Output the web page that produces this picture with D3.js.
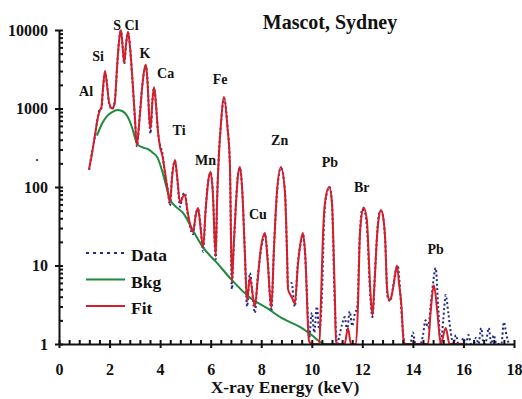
<!DOCTYPE html>
<html>
<head>
<meta charset="utf-8">
<script src="https://cdn.jsdelivr.net/npm/d3@7"></script>
<style>
  body { margin: 0; background: #fff; }
  text { font-family: "Liberation Serif", "Times New Roman", serif; font-weight: bold; fill: #111; }
</style>
</head>
<body>
<div id="chart"></div>
<script>
// Fit curve (keV, counts)
const fitKeV = [1.19, 1.3, 1.42, 1.55, 1.62, 1.68, 1.74, 1.82, 1.9, 1.98, 2.1, 2.2, 2.3, 2.38, 2.45, 2.52,
  2.58, 2.65, 2.73, 2.8, 2.9, 3.0, 3.08, 3.18, 3.3, 3.38, 3.44, 3.5, 3.58, 3.62, 3.7, 3.76, 3.82, 3.92,
  4.0, 4.08, 4.2, 4.3, 4.39, 4.48, 4.59, 4.68, 4.79, 4.9, 4.98, 5.08, 5.3, 5.42, 5.5, 5.58, 5.7, 5.8,
  5.92, 6.0, 6.08, 6.2, 6.25, 6.31, 6.4, 6.53, 6.66, 6.76, 6.84, 6.9, 7.0, 7.08, 7.16, 7.25, 7.35, 7.44,
  7.55, 7.75, 7.85, 7.98, 8.15, 8.25, 8.4, 8.5, 8.62, 8.78, 8.94, 9.02, 9.06, 9.2, 9.33, 9.45, 9.56,
  9.65, 9.74, 9.89, 10.0, 10.3, 10.36, 10.44, 10.52, 10.69, 10.8, 10.85, 10.92, 10.96, 11.3, 11.43,
  11.55, 11.75, 11.83, 11.9, 11.95, 12.05, 12.18, 12.22, 12.3, 12.4, 12.47, 12.58, 12.64, 12.74, 12.84,
  12.9, 12.98, 13.06, 13.15, 13.25, 13.37, 13.45, 13.55, 13.62, 13.65, 14.6, 14.7, 14.83, 14.97, 15.1,
  15.3, 15.45, 16.0];
const fitCounts = [170, 260, 450, 800, 950, 1050, 1800, 3000, 2000, 1200, 1000, 1150, 3500, 7500, 10000, 6000,
  3800, 6500, 9500, 6500, 2500, 800, 340, 700, 2000, 3200, 3600, 2200, 700, 550, 1300, 1870, 1300, 500,
  320, 260, 150, 90, 63, 140, 220, 130, 63, 75, 80, 50, 27, 45, 54, 35, 17, 50,
  130, 155, 90, 13, 60, 200, 600, 1400, 600, 200, 6.2, 15, 60, 140, 180, 90, 15, 3.6,
  7, 3, 6, 16, 26, 12, 2.9, 15, 84, 180, 84, 15, 5, 4, 3.3, 10, 20,
  26, 14, 1.1, 1, 1, 3.3, 23, 62, 100, 62, 23, 3.3, 1, 1, 1.6,
  1, 1, 3.3, 23, 38, 55, 38, 23, 6, 2.3, 5, 23, 38, 51, 38,
  23, 5, 3.6, 4, 6, 10, 6, 3, 1.2, 1, 1, 2.5, 5.6, 2.5, 1,
  1.6, 1, 1];

// Background (keV, counts)
const bkgKeV = [1.5, 1.7, 1.9, 2.1, 2.3, 2.5, 2.7, 2.9, 3.0, 3.1, 3.3, 3.5, 3.7, 3.9, 4.07, 4.25, 4.39,
  4.6, 4.9, 5.3, 5.7, 6.25, 6.84, 7.55, 8.2, 8.86, 9.53, 10.0, 10.5, 11.0];
const bkgCounts = [450, 640, 800, 900, 960, 930, 800, 560, 430, 350, 320, 305, 275, 235, 165, 100, 70,
  57, 47, 28, 17, 10.8, 6.5, 3.9, 2.9, 2.1, 1.65, 1.3, 1, 1];

// Measured spectrum (keV, counts)
const dataKeV = [1.19, 1.3, 1.42, 1.55, 1.62, 1.68, 1.74, 1.82, 1.9, 1.98, 2.1, 2.2, 2.3, 2.38, 2.45, 2.52,
  2.58, 2.65, 2.73, 2.8, 2.9, 3.0, 3.08, 3.18, 3.3, 3.38, 3.44, 3.5, 3.58, 3.62, 3.7, 3.76, 3.82, 3.92,
  4.0, 4.08, 4.2, 4.3, 4.39, 4.48, 4.59, 4.68, 4.79, 4.9, 4.98, 5.08, 5.3, 5.42, 5.5, 5.58, 5.7, 5.8,
  5.92, 6.0, 6.08, 6.2, 6.25, 6.31, 6.4, 6.53, 6.66, 6.76, 6.84, 6.9, 7.0, 7.08, 7.16, 7.25, 7.35, 7.44,
  7.55, 7.75, 7.85, 7.98, 8.15, 8.25, 8.4, 8.5, 8.62, 8.78, 8.94, 9.02, 9.06, 9.2, 9.33, 9.45, 9.56,
  9.65, 9.74,
  9.8, 9.9, 10.0, 10.1, 10.2, 10.3, 10.4, 10.5, 10.6, 10.7, 10.8, 10.9, 11.0, 11.1, 11.2, 11.3, 11.4, 11.5,
  11.6, 11.7, 11.8, 11.9, 12.0, 12.1, 12.2, 12.3, 12.4, 12.5, 12.6, 12.7, 12.8, 12.9, 13.0, 13.1, 13.2,
  13.3, 13.4, 13.5, 13.6, 13.7, 13.8, 13.9, 14.0, 14.1, 14.2, 14.3, 14.4, 14.5, 14.6, 14.7, 14.8, 14.9,
  15.0, 15.1, 15.2, 15.3, 15.4, 15.5, 15.6, 15.7, 15.8, 15.9, 16.0, 16.1, 16.2, 16.3, 16.4, 16.5, 16.6,
  16.7, 16.8, 16.9, 17.0, 17.1, 17.2, 17.3, 17.4, 17.5, 17.6, 17.7, 17.8];
const dataCounts = [165, 270, 440, 820, 1000, 1000, 1750, 2900, 2100, 1150, 980, 1200, 3400, 7600, 9800, 6100,
  3700, 6400, 9300, 6700, 2400, 780, 330, 720, 2050, 3100, 3500, 2300, 650, 480, 1350, 1800, 1350, 480,
  340, 280, 140, 95, 58, 150, 215, 125, 56, 80, 84, 48, 25, 47, 52, 37, 15, 52,
  128, 150, 95, 12, 62, 210, 590, 1350, 620, 190, 5, 14, 62, 145, 175, 88, 16, 3,
  8, 2.5, 6.5, 15, 25, 13, 2.6, 16, 80, 175, 88, 14, 5.5, 6, 3, 11, 19,
  25, 13,
  5, 1.2, 2.5, 1.4, 3, 1.5, 4, 45, 85, 100, 62, 4, 1, 1.3, 1.8, 2.2, 1.5, 2.6,
  1.7, 2.4, 3, 25, 52, 48, 25, 5, 2.2, 8, 30, 50, 45, 22, 4, 3.5, 5,
  8, 10, 4.5, 1.5, 1, 1, 1, 1.4, 1, 1, 1, 1.3, 2, 1.6, 3, 6, 9.3,
  3, 1, 2, 4.2, 2.5, 1.4, 1, 1.3, 1, 1, 1.2, 1, 1.3, 1, 1, 1.2, 1,
  1.6, 1, 1.1, 1.6, 1, 1.3, 1, 1, 1, 1.9, 1.3, 1];

// Element labels
const elemNames = ["Al", "Si", "S Cl", "K", "Ca", "Ti", "Mn", "Fe", "Cu", "Zn", "Pb", "Br", "Pb"];
const elemKeV = [1.07, 1.55, 2.65, 3.4, 4.22, 4.75, 5.8, 6.37, 7.87, 8.73, 10.72, 11.98, 14.9];
const elemCounts = [1450, 4000, 11500, 4400, 2450, 460, 190, 2050, 39, 343, 180, 86, 14];

const yTicks = [1, 10, 100, 1000, 10000];
const xTicks = [0, 2, 4, 6, 8, 10, 12, 14, 16, 18];

const legendNames = ["Data", "Bkg", "Fit"];
const colors = { data: "#1f2a86", bkg: "#1f8a3c", fit: "#d41f2b" };

const width = 522, height = 399;
const svg = d3.select("#chart").append("svg")
  .attr("width", width)
  .attr("height", height);

const x = d3.scaleLinear().domain([0, 18]).range([59, 514]);
const y = d3.scaleLog().domain([1, 10000]).range([344, 30]).clamp(true);

svg.append("defs").append("clipPath").attr("id", "plot")
  .append("rect").attr("x", 59).attr("y", 10).attr("width", 460).attr("height", 334);

const line = d3.line()
  .x(d => x(d[0]))
  .y(d => y(d[1]))
  .curve(d3.curveMonotoneX);

const plot = svg.append("g").attr("clip-path", "url(#plot)");

plot.append("path")
  .datum(dataKeV.map((k, i) => [k, dataCounts[i]]))
  .attr("fill", "none")
  .attr("stroke", colors.data)
  .attr("stroke-width", 2)
  .attr("stroke-dasharray", "2,2.5")
  .attr("d", line);

plot.append("path")
  .datum(bkgKeV.map((k, i) => [k, bkgCounts[i]]))
  .attr("fill", "none")
  .attr("stroke", colors.bkg)
  .attr("stroke-width", 2)
  .attr("d", line);

plot.append("path")
  .datum(fitKeV.map((k, i) => [k, fitCounts[i]]))
  .attr("fill", "none")
  .attr("stroke", colors.fit)
  .attr("stroke-width", 2)
  .attr("d", line);

// Axes
const minorY = [];
yTicks.slice(0, -1).forEach(t => { for (let m = 2; m <= 9; m++) minorY.push(t * m); });
const minorX = d3.range(0, 18.001, 0.4).filter(v => Math.abs(v / 2 - Math.round(v / 2)) > 0.01);

const yAxis = svg.append("g").attr("transform", "translate(59,0)")
  .call(d3.axisLeft(y).tickValues(yTicks).tickFormat(d3.format("d")).tickSizeOuter(0).tickSizeInner(4).tickPadding(7));
yAxis.selectAll(".tick line").attr("x1", 4);
svg.append("g").attr("transform", "translate(59,0)")
  .call(d3.axisLeft(y).tickValues(minorY).tickFormat("").tickSizeOuter(0).tickSizeInner(-4))
  .select(".domain").remove();

const xAxis = svg.append("g").attr("transform", "translate(0,344)")
  .call(d3.axisBottom(x).tickValues(xTicks).tickSizeOuter(0).tickSizeInner(4).tickPadding(16));
xAxis.selectAll(".tick line").attr("y1", -4);
svg.append("g").attr("transform", "translate(0,344)")
  .call(d3.axisBottom(x).tickValues(minorX).tickFormat("").tickSizeOuter(0).tickSizeInner(-4))
  .select(".domain").remove();

svg.selectAll(".domain, .tick line").attr("stroke", "#111").attr("stroke-width", 2);
svg.selectAll(".tick text")
  .attr("font-family", "Liberation Serif, Times New Roman, serif")
  .attr("font-weight", "bold")
  .attr("font-size", 16)
  .attr("fill", "#111");

// Titles
svg.append("text").attr("x", 330).attr("y", 29).attr("text-anchor", "middle")
  .attr("font-size", 20).text("Mascot, Sydney");
svg.append("text").attr("x", 285).attr("y", 393).attr("text-anchor", "middle")
  .attr("font-size", 17.5).text("X-ray Energy (keV)");
svg.append("text").attr("x", 37).attr("y", 161).attr("text-anchor", "middle")
  .attr("font-size", 12).text(".");

// Element labels
svg.selectAll(".elem")
  .data(elemNames)
  .enter()
  .append("text")
  .attr("class", "elem")
  .attr("x", (d, i) => x(elemKeV[i]))
  .attr("y", (d, i) => y(elemCounts[i]))
  .attr("text-anchor", "middle")
  .attr("font-size", 14)
  .text(d => d);

// Legend
const legend = svg.append("g").selectAll("g")
  .data(legendNames)
  .enter()
  .append("g")
  .attr("transform", (d, i) => `translate(86,${253 + i * 26.5})`);
legend.append("line")
  .attr("x1", 0).attr("x2", 39)
  .attr("stroke", (d, i) => [colors.data, colors.bkg, colors.fit][i])
  .attr("stroke-width", 2)
  .attr("stroke-dasharray", (d, i) => i === 0 ? "3,4" : null);
legend.append("text")
  .attr("x", 45).attr("y", 8)
  .attr("font-size", 17.5)
  .text(d => d);
</script>
</body>
</html>
